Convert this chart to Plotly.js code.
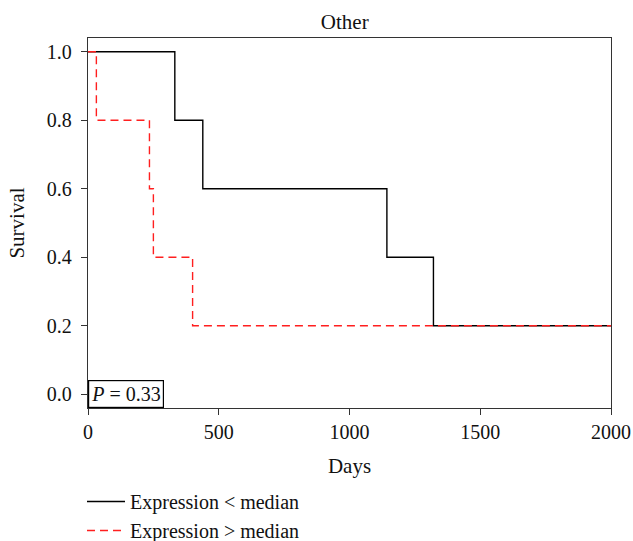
<!DOCTYPE html>
<html>
<head>
<meta charset="utf-8">
<script src="https://cdn.plot.ly/plotly-3.0.1.min.js"></script>
<style>html,body{margin:0;padding:0;background:#fff}#chart{width:633px;height:541px}</style>
</head>
<body>
<div id="chart"></div>
<script>
var lowDays = [0, 332, 439, 1143, 1321, 2000];
var lowSurv = [1.0, 0.8, 0.6, 0.4, 0.2, 0.2];
var highDays = [0, 32, 235, 250, 400, 2000];
var highSurv = [1.0, 0.8, 0.6, 0.4, 0.2, 0.2];
var yTicks = [0, 0.2, 0.4, 0.6, 0.8, 1.0];
var yTickText = ['0.0', '0.2', '0.4', '0.6', '0.8', '1.0'];
var xTicks = [0, 500, 1000, 1500, 2000];
var pText = '<i>P</i> = 0.33';

var F = 'Liberation Serif, Times New Roman, serif';
var FS = 20;
var traces = [
  {x: lowDays, y: lowSurv, type: 'scatter', mode: 'lines', line: {shape: 'hv', color: '#000', width: 1.4}, name: 'Expression < median'},
  {x: highDays, y: highSurv, type: 'scatter', mode: 'lines', line: {shape: 'hv', color: '#ff1f1f', width: 1.4, dash: '8px,5px'}, name: 'Expression > median'}
];
var layout = {
  width: 633, height: 541,
  margin: {l: 88, r: 22, t: 38, b: 133, autoexpand: false},
  paper_bgcolor: '#fff', plot_bgcolor: '#fff',
  font: {family: F, size: FS, color: '#111'},
  title: {text: 'Other', font: {family: F, size: 21, color: '#111'}, x: 0.5446, xanchor: 'center', y: 1 - 22/541, yanchor: 'middle', yref: 'container'},
  xaxis: {range: [0, 2000], tickvals: xTicks, ticks: 'outside', ticklen: 6, tickcolor: '#333', showline: true, linecolor: '#333', linewidth: 1.3, mirror: true, showgrid: false, zeroline: false,
    tickfont: {family: F, size: FS, color: '#111'}, title: {text: 'Days', font: {family: F, size: 21, color: '#111'}, standoff: 16}},
  yaxis: {range: [-0.04, 1.04], tickvals: yTicks, ticktext: yTickText, ticks: 'outside', ticklen: 6, ticklabelstandoff: 5, tickcolor: '#333', showline: true, linecolor: '#333', linewidth: 1.3, mirror: true, showgrid: false, zeroline: false,
    tickfont: {family: F, size: FS, color: '#111'}, title: {text: 'Survival', font: {family: F, size: 21, color: '#111'}, standoff: 16}},
  showlegend: true,
  legend: {x: (82 - 88) / 523, xanchor: 'left', y: -(482 - 408) / 370, yanchor: 'top', orientation: 'v', itemwidth: 38, font: {family: F, size: 20, color: '#111'}, tracegroupgap: 0, bgcolor: 'rgba(0,0,0,0)'},
  annotations: [{xref: 'paper', yref: 'paper', x: 0, y: 0, xanchor: 'left', yanchor: 'bottom', text: pText, showarrow: false,
    bordercolor: '#000', borderwidth: 1.2, borderpad: 2, bgcolor: '#fff', font: {family: F, size: FS, color: '#111'}}]
};
Plotly.newPlot('chart', traces, layout, {displayModeBar: false, staticPlot: true});
</script>
</body>
</html>
